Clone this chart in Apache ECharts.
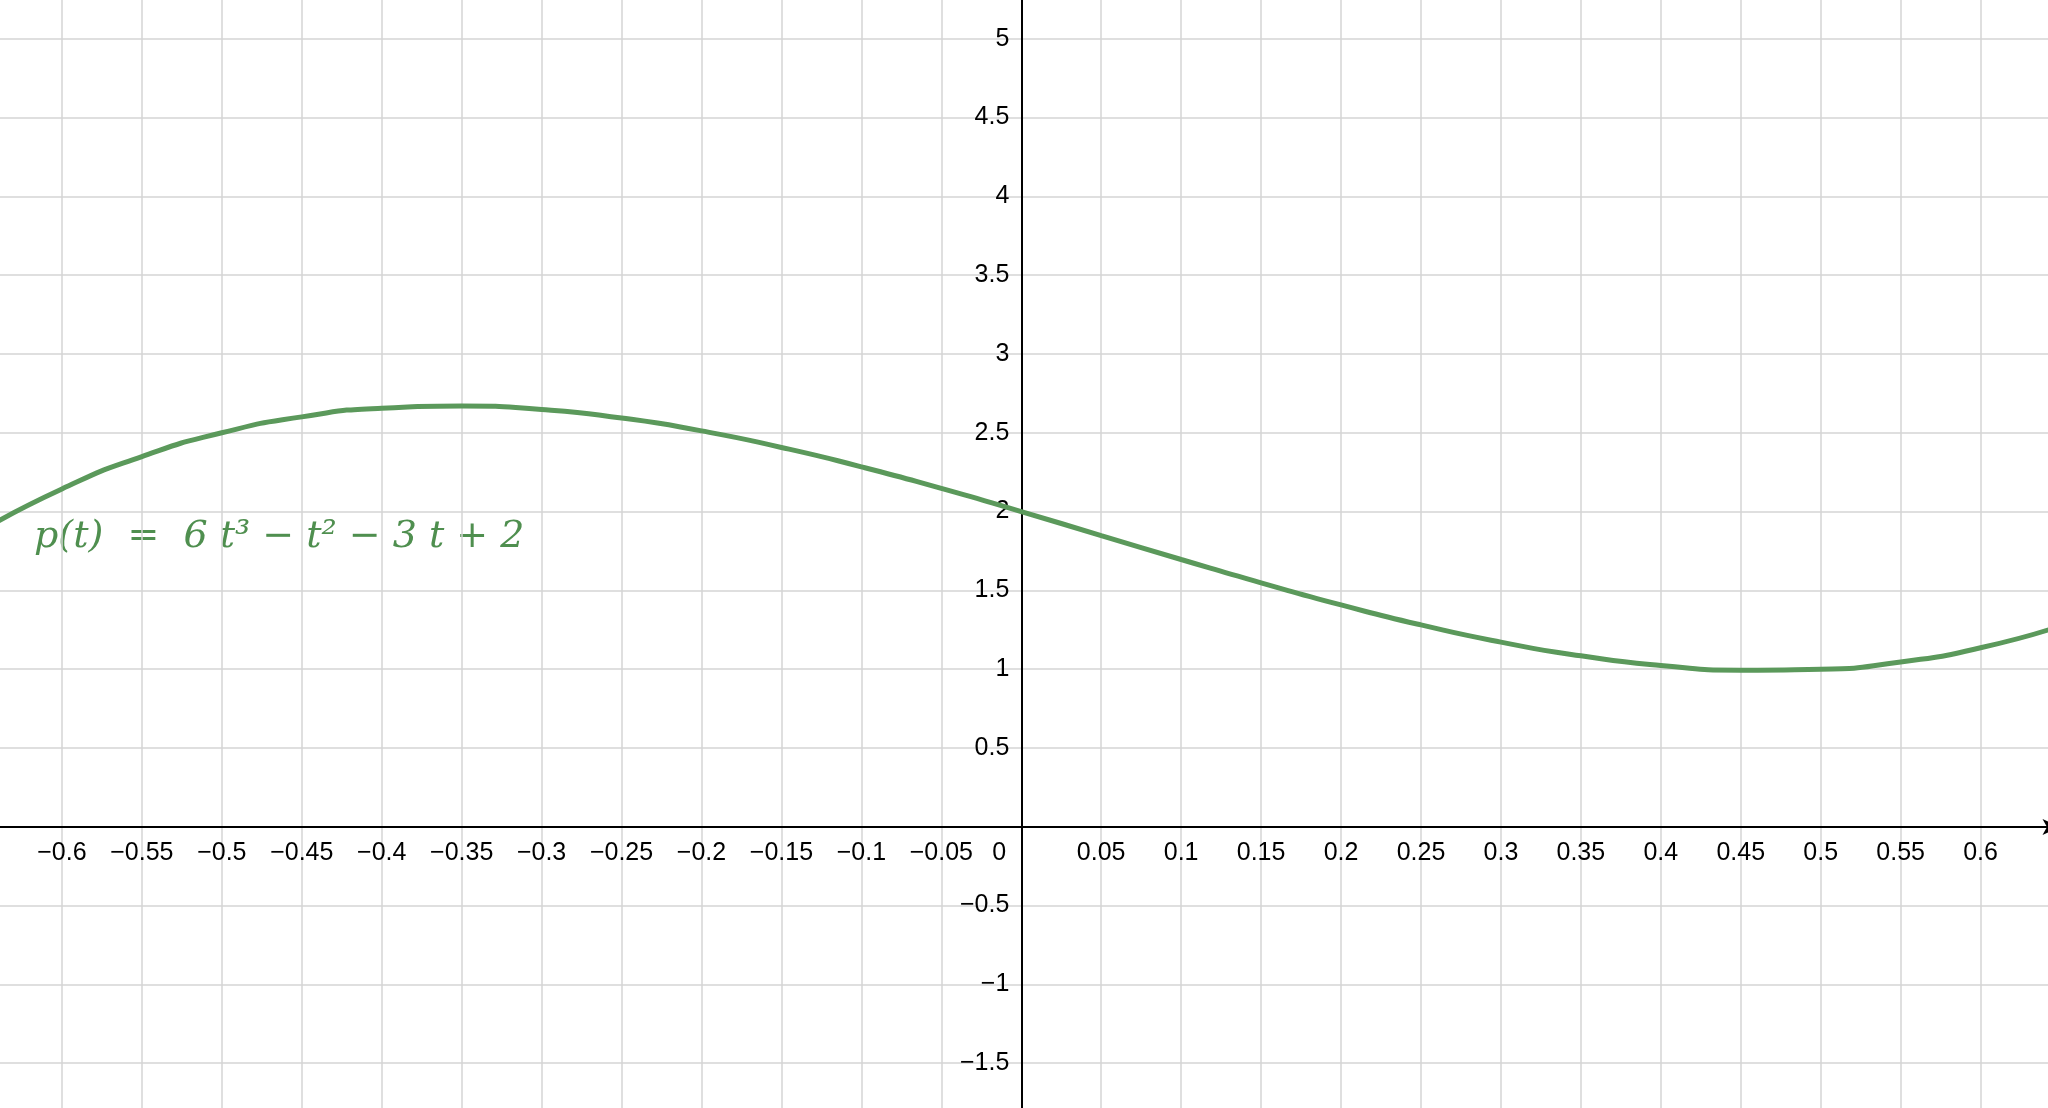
<!DOCTYPE html>
<html>
<head>
<meta charset="utf-8">
<script src="https://cdn.jsdelivr.net/npm/echarts@6/dist/echarts.min.js"></script>
<style>html,body{margin:0;padding:0;background:#fff}#chart{width:2048px;height:1108px}</style>
</head>
<body>
<div id="chart"></div>
<script>
// values
const tValues = [-0.65, -0.6, -0.55, -0.5, -0.45, -0.4, -0.35, -0.3, -0.25, -0.2, -0.15, -0.1, -0.05, 0,
  0.05, 0.1, 0.15, 0.2, 0.25, 0.3, 0.35, 0.4, 0.45, 0.5, 0.55, 0.6, 0.65];
const pValues = [1.880, 2.144, 2.349, 2.5, 2.601, 2.656, 2.670, 2.648, 2.594, 2.512, 2.407, 2.284, 2.147, 2,
  1.848, 1.696, 1.548, 1.408, 1.281, 1.172, 1.085, 1.024, 0.994, 1.0, 1.046, 1.136, 1.275];
const curveLabel = 'p(t)  =  6 t³ − t² − 3 t + 2';

const chart = echarts.init(document.getElementById('chart'));
const fmt = function (v) {
  return String(+v.toFixed(2)).replace('-', '−');
};
chart.setOption({
  animation: false,
  grid: { left: -18, right: -12.5, top: -40, bottom: -34, outerBoundsMode: 'none', containLabel: false },
  xAxis: {
    type: 'value', min: -0.65, max: 0.65, interval: 0.05,
    position: 'bottom', offset: -315,
    axisLine: { onZero: false, lineStyle: { color: '#000', width: 2 }, symbol: ['none', 'arrow'], symbolSize: [12, 18] },
    axisTick: { show: false },
    splitLine: { lineStyle: { color: '#d4d4d4', width: 1.5 } },
    axisLabel: {
      color: '#000', fontSize: 25, fontFamily: 'Liberation Sans', margin: 14,
      showMinLabel: false, showMaxLabel: false,
      formatter: function (v) {
        if (Math.abs(v) < 1e-9) return '{z|0}';
        return fmt(v);
      },
      rich: { z: { fontSize: 25, fontFamily: 'Liberation Sans', color: '#000', padding: [0, 44, 0, 0] } }
    }
  },
  yAxis: {
    type: 'value', min: -2, max: 5.5, interval: 0.5,
    position: 'left', offset: -1039.3,
    axisLine: { onZero: false, lineStyle: { color: '#000', width: 2 }, symbol: ['none', 'arrow'], symbolSize: [12, 18] },
    axisTick: { show: false },
    splitLine: { lineStyle: { color: '#d4d4d4', width: 1.5 } },
    axisLabel: {
      color: '#000', fontSize: 25, fontFamily: 'Liberation Sans', margin: 12,
      showMinLabel: false, showMaxLabel: false,
      formatter: function (v) { return Math.abs(v) < 1e-9 ? '' : fmt(v); }
    }
  },
  series: [{
    type: 'line', smooth: 0.6, showSymbol: false,
    lineStyle: { color: '#5b995b', width: 5 },
    data: tValues.map(function (t, i) { return [t, pValues[i]]; })
  }],
  graphic: [{
    type: 'text', left: 34, top: 518,
    style: { text: curveLabel, fill: '#4f8f4f', font: 'italic 38px "DejaVu Serif"' }
  }]
});
</script>
</body>
</html>
